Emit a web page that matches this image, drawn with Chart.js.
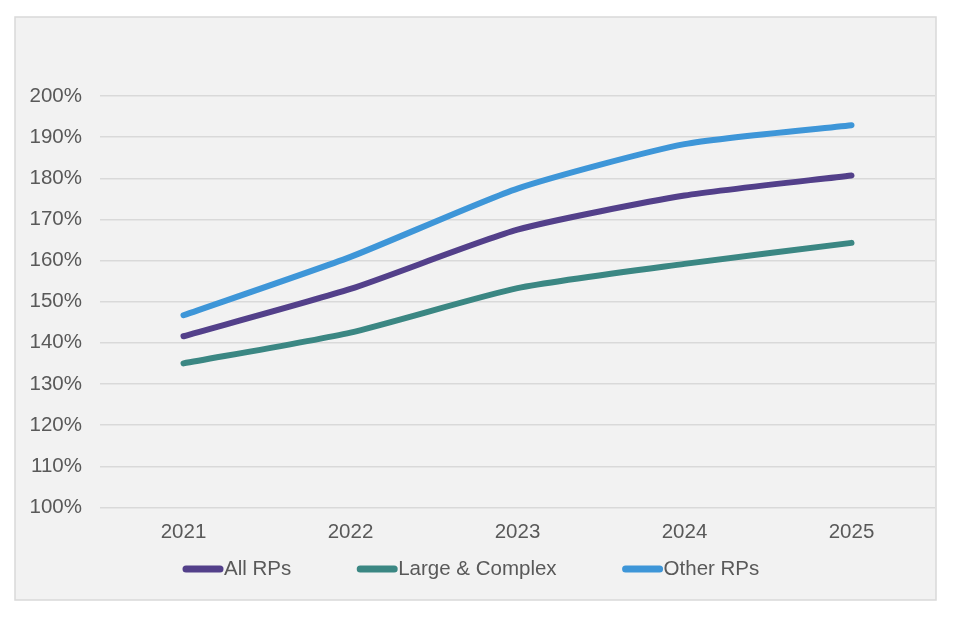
<!DOCTYPE html>
<html>
<head>
<meta charset="utf-8">
<script src="https://cdn.jsdelivr.net/npm/chart.js@4/dist/chart.umd.min.js"></script>
<style>
html,body{margin:0;padding:0;background:#fff;}
canvas{display:block;}
</style>
</head>
<body>
<canvas id="c" width="960" height="640"></canvas>
<script>
const categories = ['2021', '2022', '2023', '2024', '2025'];
const allRPs = [141.6, 153.1, 167.5, 175.8, 180.7];
const largeComplex = [135.0, 142.5, 153.3, 159.2, 164.3];
const otherRPs = [146.7, 160.9, 177.5, 188.3, 192.9];
const seriesNames = ['All RPs', 'Large & Complex', 'Other RPs'];
const seriesColors = ['#53408a', '#3b8783', '#3e96d8'];

const FONT = "'Liberation Sans Narrow', 'Arial Narrow', 'Liberation Sans', Arial, sans-serif";
const TEXT = '#595959';
const FS = 20.5;

const bgPlugin = {
  id: 'bg',
  beforeDraw(chart) {
    const ctx = chart.ctx;
    ctx.save();
    ctx.fillStyle = '#ffffff';
    ctx.fillRect(0, 0, chart.width, chart.height);
    ctx.fillStyle = '#f2f2f2';
    ctx.fillRect(15, 17, 921, 583);
    ctx.strokeStyle = '#d9d9d9';
    ctx.lineWidth = 1.5;
    ctx.strokeRect(15, 17, 921, 583);
    ctx.restore();
  }
};

const legendPlugin = {
  id: 'customLegend',
  afterDraw(chart) {
    const ctx = chart.ctx;
    ctx.save();
    ctx.font = FS + 'px ' + FONT;
    ctx.textBaseline = 'middle';
    ctx.textAlign = 'left';
    let x = 183;
    const y = 569;
    chart.data.datasets.forEach(ds => {
      ctx.strokeStyle = ds.borderColor;
      ctx.lineWidth = 7;
      ctx.lineCap = 'round';
      ctx.beginPath();
      ctx.moveTo(x + 3, y);
      ctx.lineTo(x + 37, y);
      ctx.stroke();
      ctx.fillStyle = TEXT;
      ctx.fillText(ds.label, x + 41, y);
      x += 41 + ctx.measureText(ds.label).width + 66;
    });
    ctx.restore();
  }
};

const mk = (i, data) => ({
  label: seriesNames[i],
  data: data,
  borderColor: seriesColors[i],
  backgroundColor: seriesColors[i],
  borderWidth: 6,
  pointRadius: 0,
  tension: 0.2,
  borderCapStyle: 'round',
  borderJoinStyle: 'round',
  fill: false
});

new Chart(document.getElementById('c'), {
  type: 'line',
  data: {
    labels: categories,
    datasets: [mk(0, allRPs), mk(1, largeComplex), mk(2, otherRPs)]
  },
  options: {
    responsive: false,
    animation: false,
    devicePixelRatio: 1,
    layout: { padding: { left: 15, right: 25, top: 96, bottom: 82 } },
    plugins: {
      legend: { display: false },
      tooltip: { enabled: false }
    },
    scales: {
      x: {
        offset: true,
        grid: { display: false, drawTicks: false },
        border: { display: false },
        ticks: { color: TEXT, font: { family: FONT, size: FS }, padding: 13, maxRotation: 0 }
      },
      y: {
        min: 100,
        max: 200,
        afterFit(scale) { scale.width = 85; },
        grid: { color: '#d9d9d9', lineWidth: 1.5, drawTicks: false },
        border: { display: false },
        ticks: {
          stepSize: 10,
          color: TEXT,
          font: { family: FONT, size: FS },
          padding: 18,
          callback: v => v + '%'
        }
      }
    }
  },
  plugins: [bgPlugin, legendPlugin]
});
</script>
</body>
</html>
